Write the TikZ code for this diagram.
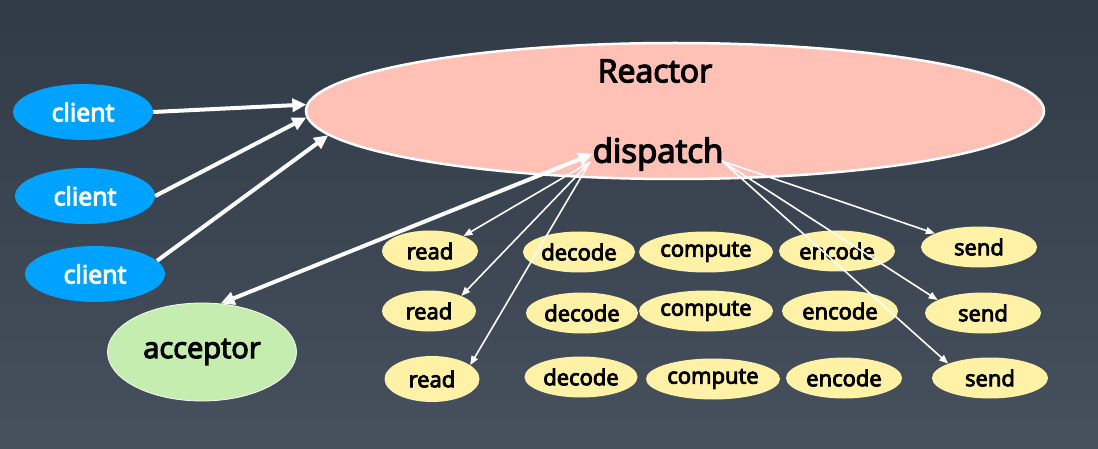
\documentclass[tikz,border=0pt]{standalone}
\usepackage{fontspec}
\setmainfont{Open Sans}[FakeBold=4]
\usetikzlibrary{shapes.geometric,arrows.meta}

\definecolor{bgtop}{RGB}{49,58,71}
\definecolor{bgbot}{RGB}{70,81,93}
\definecolor{clientblue}{RGB}{0,162,255}
\definecolor{reactorpink}{RGB}{255,192,182}
\definecolor{acceptgreen}{RGB}{197,237,176}
\definecolor{taskyellow}{RGB}{255,241,166}

\begin{document}
\begin{tikzpicture}[x=1pt,y=-1pt,
	client/.style={ellipse,fill=clientblue,text=white,minimum width=140pt,minimum height=56pt,inner sep=0pt,font=\fontsize{25}{30}\selectfont},
	task/.style={ellipse,fill=taskyellow,text=black,minimum height=41pt,inner sep=0pt,font=\fontsize{22}{26}\selectfont},
	bigarrow/.style={white,line width=4pt,-{Triangle[length=14pt,width=13pt]}},
	thinarrow/.style={white,line width=1.6pt,-{Triangle[length=9pt,width=7pt]}}]
				\shade[top color=bgtop,bottom color=bgbot] (0,0) rectangle (1098,449);
				
				% reactor
				\node [ellipse,draw=white,line width=2.5pt,fill=reactorpink,minimum width=738pt,minimum height=136pt,inner sep=0pt] (reactor) at (675,111) {};
				\node [inner sep=0pt,font=\fontsize{32}{38}\selectfont] (title) at (655,71) {Reactor};
				\node [inner sep=0pt,font=\fontsize{33}{38}\selectfont] (dispatch) at (658,154) {dispatch};
				\coordinate (dl) at (590,162);
				\coordinate (dr) at (722,161);
				
				% clients, acceptor
				\node [client] (client1) at (83,112) {client};
				\node [client] (client2) at (85,196) {client};
				\node [client] (client3) at (95,274) {client};
				\node [ellipse,draw=white!85!acceptgreen,line width=0.8pt,fill=acceptgreen,minimum width=189pt,minimum height=98pt,inner sep=0pt,font=\fontsize{29}{34}\selectfont] (acceptor) at (202,352) {acceptor};
				
				% handlers
				\node [task,minimum width=96pt] (read1) at (430,251) {read};
				\node [task,minimum width=94pt] (read2) at (429,311) {read};
				\node [task,minimum width=95pt,minimum height=46pt] (read3) at (432,379) {read};
				\node [task,minimum width=112pt] (decode1) at (579,252) {decode};
				\node [task,minimum width=112pt] (decode2) at (582,313) {decode};
				\node [task,minimum width=113pt] (decode3) at (581,377) {decode};
				\node [task,minimum width=134pt] (compute1) at (706,252) {compute};
				\node [task,minimum width=134pt] (compute2) at (706,311) {compute};
				\node [task,minimum width=134pt] (compute3) at (713,379) {compute};
				\node [task,minimum width=116pt] (encode1) at (837,251) {encode};
				\node [task,minimum width=116pt] (encode2) at (840,311) {encode};
				\node [task,minimum width=116pt] (encode3) at (844,378) {encode};
				\node [task,minimum width=116pt] (send1) at (979,247) {send};
				\node [task,minimum width=116pt] (send2) at (983,313) {send};
				\node [task,minimum width=116pt] (send3) at (990,378) {send};
				
				\draw [bigarrow] (client1.east) -- (reactor.179);
				\draw [bigarrow] (client2.east) -- (reactor.181);
				\draw [bigarrow] (client3.12) -- (reactor.184);
				\draw [bigarrow,{Triangle[length=14pt,width=13pt]}-{Triangle[length=14pt,width=13pt]}] (acceptor.69) -- (dispatch.west);
				
				\draw [thinarrow] (dl) -- (read1.24);
				\draw [thinarrow] (dl) -- (read2.25);
				\draw [thinarrow] (dl) -- (read3.20);
				\draw [thinarrow] (dr) -- (send1.163);
				\draw [thinarrow] (dr) -- (send2.164);
				\draw [thinarrow] (dr) -- (send3.161);
			\end{tikzpicture}
\end{document}
